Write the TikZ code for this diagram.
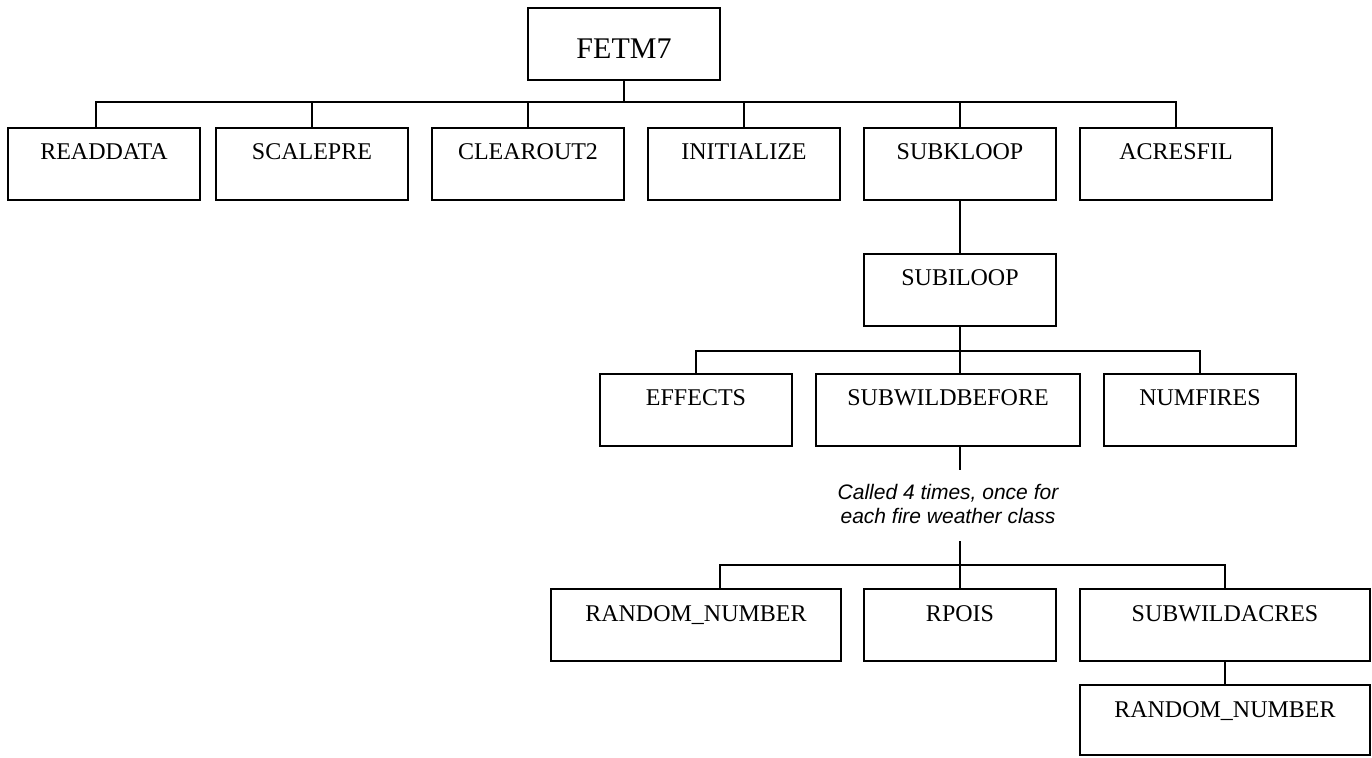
\documentclass[tikz,border=0pt]{standalone}
\usepackage{fontspec}
\setmainfont{Liberation Serif}
\newfontfamily\notefont{Liberation Sans}
\usetikzlibrary{positioning, calc}

\begin{document}
\begin{tikzpicture}[
    node distance=12pt,
    unit/.style={rectangle, draw=black, line width=1pt, inner sep=0pt, outer sep=0pt,
                 minimum width=#1, text height=16pt, text depth=20pt,
                 font=\fontsize{12}{14}\selectfont},
    unit/.default=96pt,
    note/.style={align=center, inner sep=0pt,
                 font=\notefont\itshape\fontsize{10.5}{12}\selectfont},
    link/.style={line width=0.8pt, black}
  ]
    \useasboundingbox (0,0) rectangle (686pt,-379pt);
    \node[unit, text height=25.5pt, text depth=10.5pt, font=\fontsize{15}{18}\selectfont] (fetm) at (312pt,-22pt) {FETM7};
    \node[unit] (readdata) at (52pt,-82pt) {READDATA};
    \node[unit, right=8pt of readdata] (scalepre) {SCALEPRE};
    \node[unit, right=of scalepre] (clearout) {CLEAROUT2};
    \node[unit, right=of clearout] (initialize) {INITIALIZE};
    \node[unit, right=of initialize] (subkloop) {SUBKLOOP};
    \node[unit, right=of subkloop] (acresfil) {ACRESFIL};
    \node[unit, below=27pt of subkloop] (subiloop) {SUBILOOP};
    \node[unit=132pt, below=24pt of subiloop, xshift=-6pt] (subwild) {SUBWILDBEFORE};
    \node[unit, left=of subwild] (effects) {EFFECTS};
    \node[unit, right=of subwild] (numfires) {NUMFIRES};
    \node[note, below=19pt of subwild] (note) {Called 4 times, once for\\each fire weather class};
    \coordinate (bus) at ($(fetm.south)+(0,-11pt)$);
    \coordinate (bus2) at ($(subiloop.south)+(0,-12.5pt)$);
    \coordinate (bus3) at ($(note.south -| subiloop)+(0,-20.5pt)$);
    \node[unit, below=12pt of bus3] (rpois) {RPOIS};
    \node[unit=145pt, left=11.5pt of rpois] (random) {RANDOM\_NUMBER};
    \node[unit=145pt, right=of rpois] (subwildacres) {SUBWILDACRES};
    \node[unit=145pt, text depth=19pt, below=12pt of subwildacres] (random2) {RANDOM\_NUMBER};
    \draw[link] (fetm.south) -- (bus);
    \draw[link] (bus) -| ([xshift=-4pt]readdata.north);
    \draw[link] (bus) -| (scalepre.north);
    \draw[link] (bus) -| (clearout.north);
    \draw[link] (bus) -| (initialize.north);
    \draw[link] (bus) -| (subkloop.north);
    \draw[link] (bus) -| (acresfil.north);
    \draw[link] (subkloop) -- (subiloop);
    \draw[link] (subiloop.south) -- (subiloop.south |- subwild.north);
    \draw[link] (bus2) -| (effects.north);
    \draw[link] (bus2) -| (numfires.north);
    \draw[link] (subiloop.south |- subwild.south) -- ++(0,-12pt);
    \draw[link] ($(note.south -| subiloop)+(0,-8.5pt)$) -- (bus3);
    \draw[link] (bus3) -- (rpois.north);
    \draw[link] (bus3) -| ([xshift=12pt]random.north);
    \draw[link] (bus3) -| (subwildacres.north);
    \draw[link] (subwildacres) -- (random2);
  \end{tikzpicture}
\end{document}
